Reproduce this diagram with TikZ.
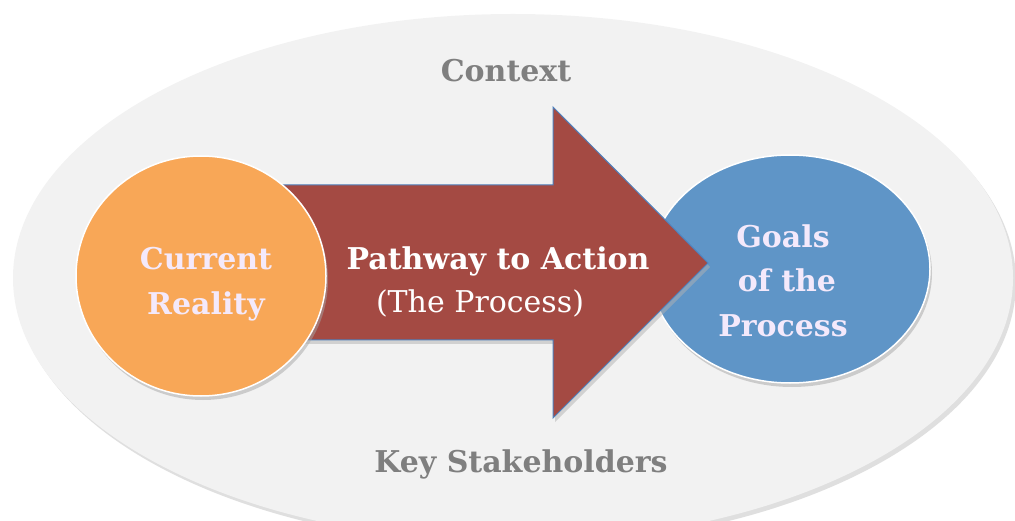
\documentclass[tikz,border=0pt]{standalone}
\usepackage{fontspec}
\setmainfont{DejaVu Serif}
\usetikzlibrary{shadows,shapes.geometric}

\definecolor{bgGray}{HTML}{F2F2F2}
\definecolor{txtGray}{HTML}{7F7F7F}
\definecolor{curOrange}{HTML}{F8A757}
\definecolor{goalBlue}{HTML}{5F95C7}
\definecolor{pathRed}{HTML}{A44A43}
\definecolor{edgeBlue}{HTML}{4F81BD}
\definecolor{lilac}{HTML}{F4E9FB}

\begin{document}
\begin{tikzpicture}[x=1pt,y=-1pt]
                \useasboundingbox (0,0) rectangle (1015,521);
                \begin{scope}
                        \clip (0,0) rectangle (1015,521);
                        \fill[bgGray, drop shadow={shadow xshift=3pt,shadow yshift=-4pt,fill=black!25}] (513,278) ellipse [x radius=500, y radius=264];
                \end{scope}

                \begin{scope}[every node/.style={anchor=base, font=\bfseries\fontsize{30}{45}\selectfont, text=txtGray}]
                        \node (ctx) at (506,82) {Context};
                        \node (ks) at (521,472) {Key Stakeholders};
                \end{scope}

                \begin{scope}[every node/.style={ellipse, draw=white, line width=1.5pt, drop shadow={shadow xshift=2pt,shadow yshift=-4pt,fill=black!35}, align=center, text=lilac, font=\bfseries\fontsize{30}{45}\selectfont}]
                        \node [fill=goalBlue, minimum width=280, minimum height=228] (goal) at (790,269) {};
                \end{scope}

                % the arrow
                \coordinate (sl) at (250,185);
                \coordinate (tip) at (708,263);
                \draw[edgeBlue, fill=pathRed, line width=1pt, drop shadow={shadow xshift=2pt,shadow yshift=-4pt,fill=black!30}]
                        (sl) -- (553,185) -- (553,107) -- (tip) -- (553,418) -- (553,340) -- (250,340) -- cycle;

                \begin{scope}[every node/.style={ellipse, draw=white, line width=1.5pt, drop shadow={shadow xshift=2pt,shadow yshift=-4pt,fill=black!35}, align=center, text=lilac, font=\bfseries\fontsize{30}{45}\selectfont}]
                        \node [fill=curOrange, minimum width=250, minimum height=240] (cur) at (201,276) {};
                \end{scope}

                \begin{scope}[every node/.style={anchor=base, text=lilac, font=\bfseries\fontsize{30}{45}\selectfont}]
                        \node (cur1) at (206,270) {Current};
                        \node (cur2) at (206,315) {Reality};
                        \node (goal1) at (783,248) {Goals};
                        \node (goal2) at (787,292) {of the};
                        \node (goal3) at (783,337) {Process};
                \end{scope}

                \begin{scope}[every node/.style={anchor=base, text=white, font=\fontsize{30}{45}\selectfont}]
                        \node [font=\bfseries\fontsize{30}{45}\selectfont] (pta) at (498,270) {Pathway to Action};
                        \node (tp) at (480,313) {(The Process)};
                \end{scope}
        \end{tikzpicture}
\end{document}
